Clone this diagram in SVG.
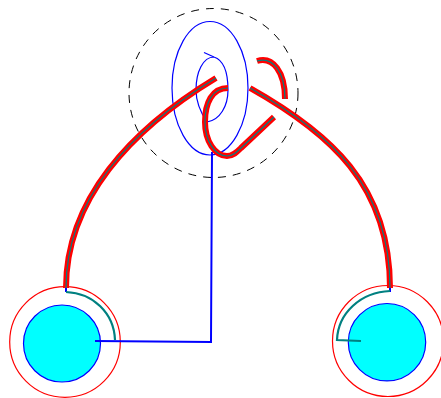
<svg xmlns="http://www.w3.org/2000/svg" width="441" height="398" viewBox="0 0 441 398">
<style>
.halo{fill:none;stroke:#f00;stroke-width:6}
.core{fill:none;stroke:#008080;stroke-width:1.200}
.teal{fill:none;stroke:#008080;stroke-width:2.200}
.blue{fill:none;stroke:#00f;stroke-width:1.200}
.wire{fill:none;stroke:#00f;stroke-width:2}
.ring{fill:none;stroke:#f00;stroke-width:1.200}
.disc{fill:#0ff;stroke:#00f;stroke-width:1.200}
</style>
<g id="knot-boundary"><circle cx="213.5" cy="93" r="84.5" fill="none" stroke="#000" stroke-dasharray="8 7"/></g>
<g id="left-node"><circle class="ring" cx="65" cy="342" r="55.3"/><circle class="disc" cx="62" cy="343.500" r="38.5"/></g>
<g id="right-node"><circle class="ring" cx="388" cy="341" r="55.5"/><circle class="disc" cx="387" cy="342.200" r="38.7"/></g>
<g id="connectors">
<path class="blue" d="M210 155C189 155 172 125 172 88C172 51 189 21.500 210 21.500C231 21.500 248 51 248 88C248 125 231 155 210 155"/>
<path class="blue" d="M204 52.500L214 57C203 57 196 72 196 90C196 100 199 110 207 122C220 120 228 106 228 90C228 72 223 60 214 57"/>
<path class="wire" d="M212 152L211 342L95 341"/>
<path class="wire" d="M66 284V292"/>
<path class="wire" d="M390 284V292"/>
<path class="teal" d="M66 292C93 293 114 313 115 340"/>
<path class="teal" d="M390 291C361 292 338 313 337 340L361 341"/>
<path class="halo" d="M66 288C66 200 130 130 216 78"/>
<path class="core" d="M66 288C66 200 130 130 216 78"/>
<path class="halo" d="M390 288C390 185 330 133 250 88"/>
<path class="core" d="M390 288C390 185 330 133 250 88"/>
<path class="halo" d="M228 88C212 88 205 103 205 122C205 141 215 156 227 156C233 156 237 152 241 148L274 117"/>
<path class="core" d="M228 88C212 88 205 103 205 122C205 141 215 156 227 156C233 156 237 152 241 148L274 117"/>
<path class="halo" d="M257 61C273 56 285 72 285 99"/>
<path class="core" d="M257 61C273 56 285 72 285 99"/>
</g>
</svg>
